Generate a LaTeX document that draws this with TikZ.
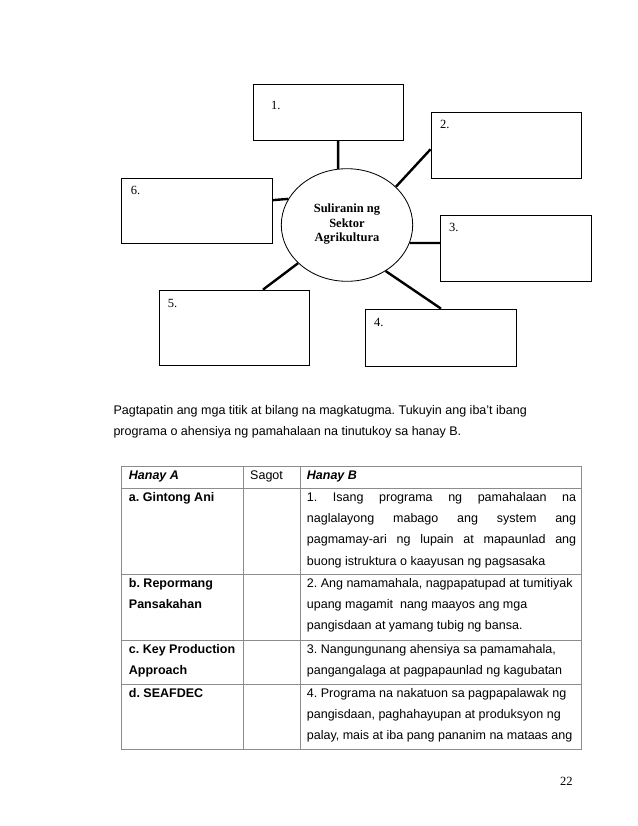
\documentclass[tikz,border=0pt]{standalone}
\usepackage{fontspec}
\setmainfont{Liberation Serif}
\setsansfont{Liberation Sans}
\usetikzlibrary{shapes.geometric}
\definecolor{tgray}{gray}{0.55}
\frenchspacing
\begin{document}
\frenchspacing
\begin{tikzpicture}[x=0.95925pt,y=-0.95925pt,
  box/.style={draw, line width=0.8pt, inner sep=0, rectangle},
  ebox/.style={draw, line width=0.8pt, inner sep=0, ellipse},
  conn/.style={line width=2.3pt},
  lbl/.style={anchor=base west, inner sep=0, font=\rmfamily\fontsize{12}{14}\selectfont},
  etext/.style={anchor=base, inner sep=0, font=\rmfamily\bfseries\fontsize{12}{14}\selectfont},
  tx/.style={anchor=base west, inner sep=0, font=\sffamily\fontsize{12}{14}\selectfont},
  txb/.style={tx, font=\sffamily\bfseries\fontsize{12}{14}\selectfont},
  txbi/.style={tx, font=\sffamily\bfseries\itshape\fontsize{12}{14}\selectfont},
  tline/.style={draw=tgray, line width=0.9pt}]
\useasboundingbox (0,0) rectangle (638,826);
\fill[white] (0,0) rectangle (638,826);

% central ellipse
\node[ebox, minimum width=131.4*0.95925pt, minimum height=112.6*0.95925pt] (el) at (347,225) {};
\node[etext] (et1) at (347,212.7) {Suliranin ng};
\node[etext] (et2) at (347,227.2) {Sektor};
\node[etext] (et3) at (347,241.7) {Agrikultura};

% boxes
\node[box, minimum width=150*0.95925pt, minimum height=56.3*0.95925pt] (b1) at (328.3,112.2) {};
\node[box, minimum width=150.7*0.95925pt, minimum height=66*0.95925pt] (b2) at (506.3,145.3) {};
\node[box, minimum width=151*0.95925pt, minimum height=65*0.95925pt] (b6) at (196.8,210.8) {};
\node[box, minimum width=151.4*0.95925pt, minimum height=66*0.95925pt] (b3) at (516,248.3) {};
\node[box, minimum width=150*0.95925pt, minimum height=75.3*0.95925pt] (b5) at (234.3,327.7) {};
\node[box, minimum width=151.4*0.95925pt, minimum height=57.3*0.95925pt] (b4) at (441,337.7) {};

\node[lbl] (l1) at (271,109) {1.};
\node[lbl] (l2) at (440,128) {2.};
\node[lbl] (l6) at (130.7,194) {6.};
\node[lbl] (l3) at (449,231.7) {3.};
\node[lbl] (l5) at (167.7,307.3) {5.};
\node[lbl] (l4) at (374,326.3) {4.};

% connectors
\draw[conn] (el.99) -- (b1.-71.5);
\draw[conn] (el.38.6) -- (b2.183.6);
\draw[conn] (el.156.3) -- (b6.8.1);
\draw[conn] (el.-16.7) -- (b3.176.5);
\draw[conn] (el.218.3) -- (b5.53);
\draw[conn] (el.-50.9) -- (b4.90.6);

% instructions
\node[tx] (p1) at (113.3,414) {Pagtapatin ang mga titik at bilang na magkatugma. Tukuyin ang iba’t ibang};
\node[tx] (p2) at (113.3,435.3) {programa o ahensiya ng pamahalaan na tinutukoy sa hanay B.};

% table
\draw[tline] (121.3,466.3) rectangle (581.7,749.3);
\draw[tline] (121.3,488.3) -- (581.7,488.3);
\draw[tline] (121.3,574.3) -- (581.7,574.3);
\draw[tline] (121.3,640.7) -- (581.7,640.7);
\draw[tline] (121.3,684.3) -- (581.7,684.3);
\draw[tline] (243.7,466.3) -- (243.7,749.3);
\draw[tline] (300.3,466.3) -- (300.3,749.3);

\node[txbi] (hA) at (128.7,479) {Hanay A};
\node[tx] (hS) at (250,479) {Sagot};
\node[txbi] (hB) at (306.7,479) {Hanay B};

\node[txb] (a1) at (128.7,501) {a. Gintong Ani};
\node[tx] (ab1) at (306.7,501) {\makebox[258.3pt][s]{1. Isang programa ng pamahalaan na}};
\node[tx] (ab2) at (306.7,522.4) {\makebox[258.3pt][s]{naglalayong mabago ang system ang}};
\node[tx] (ab3) at (306.7,543.8) {\makebox[258.3pt][s]{pagmamay-ari ng lupain at mapaunlad ang}};
\node[tx] (ab4) at (306.7,565.2) {buong istruktura o kaayusan ng pagsasaka};

\node[txb] (b1t) at (128.7,587) {b. Repormang};
\node[txb] (b2t) at (128.7,608.4) {Pansakahan};
\node[tx] (bb1) at (306.7,587) {2. Ang namamahala, nagpapatupad at tumitiyak};
\node[tx] (bb2) at (306.7,608.4) {upang magamit\ \ nang maayos ang mga};
\node[tx] (bb3) at (306.7,629.8) {pangisdaan at yamang tubig ng bansa.};

\node[txb] (c1t) at (128.7,653.4) {c. Key Production};
\node[txb] (c2t) at (128.7,674.8) {Approach};
\node[tx] (cb1) at (306.7,653.4) {3. Nangungunang ahensiya sa pamamahala,};
\node[tx] (cb2) at (306.7,674.8) {pangangalaga at pagpapaunlad ng kagubatan};

\node[txb] (d1t) at (128.7,697) {d. SEAFDEC};
\node[tx] (db1) at (306.7,697) {4. Programa na nakatuon sa pagpapalawak ng};
\node[tx] (db2) at (306.7,718.4) {pangisdaan, paghahayupan at produksyon ng};
\node[tx] (db3) at (306.7,739.8) {palay, mais at iba pang pananim na mataas ang};

\node[lbl] (pg) at (560,785) {22};
\end{tikzpicture}
\end{document}
